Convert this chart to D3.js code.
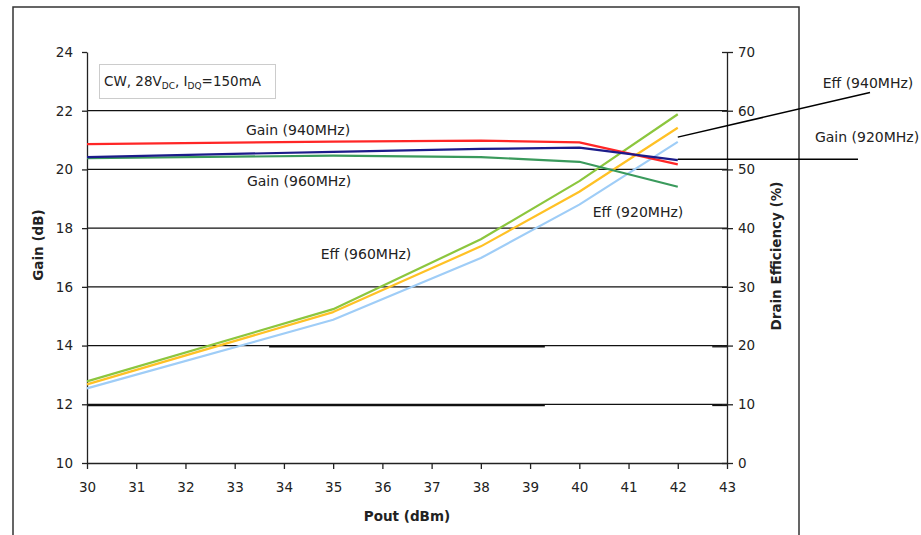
<!DOCTYPE html>
<html>
<head>
<meta charset="utf-8">
<script src="https://cdn.jsdelivr.net/npm/d3@7"></script>
<style>
body { margin: 0; background: #fff; }
text { font-family: "DejaVu Sans", sans-serif; fill: #222; }
</style>
</head>
<body>
<svg id="chart" width="921" height="535"></svg>
<script>
// measured points (Pout in dBm)
var pout = [30, 35, 38, 40, 42];
var gain920 = [20.42, 20.60, 20.70, 20.74, 20.32];
var gain940 = [20.86, 20.95, 20.98, 20.92, 20.17];
var gain960 = [20.38, 20.47, 20.42, 20.26, 19.41];
var eff920 = [12.7, 24.4, 34.9, 44.0, 54.7];
var eff940 = [13.4, 25.7, 36.9, 46.2, 57.1];
var eff960 = [13.9, 26.2, 38.1, 48.0, 59.4];

var xTicks = [30, 31, 32, 33, 34, 35, 36, 37, 38, 39, 40, 41, 42, 43];
var gainTicks = [10, 12, 14, 16, 18, 20, 22, 24];
var effTicks = [0, 10, 20, 30, 40, 50, 60, 70];
var gainGrid = [12, 14, 16, 18, 20, 22];

var svg = d3.select("#chart");

var x = d3.scaleLinear().domain([30, 43]).range([87, 727]);
var yG = d3.scaleLinear().domain([10, 24]).range([463, 52]);
var yE = d3.scaleLinear().domain([0, 70]).range([463, 52]);

// outer frame
svg.append("path")
  .attr("d", "M13,540 L13,7 L799,7 L799,540")
  .attr("fill", "none")
  .attr("stroke", "#333")
  .attr("stroke-width", 1.5);

// gridlines
svg.append("g").selectAll("line").data(gainGrid).enter().append("line")
  .attr("x1", x(30)).attr("x2", x(43))
  .attr("y1", function(d){ return yG(d); })
  .attr("y2", function(d){ return yG(d); })
  .attr("stroke", "#111")
  .attr("stroke-width", 1.2);

// the doubled pieces of the 10% / 20% lines (secondary axis grid)
var effOverlay = [
  {eff: 20, from: 33.7, to: 39.3},
  {eff: 20, from: 42.7, to: 43},
  {eff: 10, from: 30, to: 39.3},
  {eff: 10, from: 42.7, to: 43}
];
svg.append("g").selectAll("line").data(effOverlay).enter().append("line")
  .attr("x1", function(d){ return x(d.from); })
  .attr("x2", function(d){ return x(d.to); })
  .attr("y1", function(d){ return yE(d.eff) + 1.2; })
  .attr("y2", function(d){ return yE(d.eff) + 1.2; })
  .attr("stroke", "#111")
  .attr("stroke-width", 1.3);

// axes
var left = svg.append("g")
  .attr("transform", "translate(" + x(30) + ",0)")
  .call(d3.axisLeft(yG).tickValues(gainTicks).tickSize(5).tickSizeOuter(0).tickPadding(9));
var right = svg.append("g")
  .attr("transform", "translate(" + x(43) + ",0)")
  .call(d3.axisRight(yE).tickValues(effTicks).tickSize(6).tickSizeOuter(0).tickPadding(5));
right.selectAll(".tick line").attr("x1", -5);
var bottom = svg.append("g")
  .attr("transform", "translate(0," + yG(10) + ")")
  .call(d3.axisBottom(x).tickValues(xTicks).tickSize(6).tickSizeOuter(0).tickPadding(13));

[left, right, bottom].forEach(function(a){
  a.selectAll("path, line").attr("stroke", "#222").attr("stroke-width", 1.3);
  a.selectAll("text").attr("font-size", 13.5).attr("fill", "#333")
    .attr("font-family", "DejaVu Sans, sans-serif");
});

// series
var series = [
  {v: eff920, y: yE, color: "#9fcdf7"},
  {v: eff940, y: yE, color: "#ffc125"},
  {v: eff960, y: yE, color: "#8cc63e"},
  {v: gain960, y: yG, color: "#3a9a5c"},
  {v: gain940, y: yG, color: "#ff2626"},
  {v: gain920, y: yG, color: "#1c1c8a"}
];
series.forEach(function(s){
  var line = d3.line()
    .x(function(d, i){ return x(pout[i]); })
    .y(function(d){ return s.y(d); });
  svg.append("path")
    .datum(s.v)
    .attr("d", line)
    .attr("fill", "none")
    .attr("stroke", s.color)
    .attr("stroke-width", 2.2)
    .attr("stroke-linejoin", "round");
});

// leader lines for the two labels outside the plot
svg.append("line")
  .attr("x1", x(42)).attr("y1", yE(55.5))
  .attr("x2", 870).attr("y2", 92.5)
  .attr("stroke", "#000").attr("stroke-width", 1.5);
svg.append("line")
  .attr("x1", x(42)).attr("y1", yG(20.35))
  .attr("x2", 858).attr("y2", yG(20.35))
  .attr("stroke", "#000").attr("stroke-width", 1.5);

// series labels
var labels = [
  {t: "Gain (940MHz)", x: 298, y: 135},
  {t: "Gain (960MHz)", x: 299, y: 186},
  {t: "Eff (960MHz)", x: 366, y: 259},
  {t: "Eff (920MHz)", x: 638, y: 217},
  {t: "Eff (940MHz)", x: 868, y: 88},
  {t: "Gain (920MHz)", x: 867, y: 142}
];
svg.append("g").selectAll("text").data(labels).enter().append("text")
  .attr("x", function(d){ return d.x; })
  .attr("y", function(d){ return d.y; })
  .attr("text-anchor", "middle")
  .attr("font-size", 14)
  .text(function(d){ return d.t; });

// condition box
svg.append("rect")
  .attr("x", 99.5).attr("y", 64.5).attr("width", 176).attr("height", 34)
  .attr("fill", "#fff").attr("stroke", "#ccc").attr("stroke-width", 1);
var cond = svg.append("text").attr("x", 104).attr("y", 86).attr("font-size", 13.5);
cond.append("tspan").text("CW, 28V");
cond.append("tspan").attr("font-size", 9).attr("dy", 3).text("DC");
cond.append("tspan").attr("dy", -3).text(", I");
cond.append("tspan").attr("font-size", 9).attr("dy", 3).text("DQ");
cond.append("tspan").attr("dy", -3).text("=150mA");

// axis titles
svg.append("text")
  .attr("transform", "translate(43,245) rotate(-90)")
  .attr("text-anchor", "middle")
  .attr("font-size", 13.5).attr("font-weight", "bold")
  .text("Gain (dB)");
svg.append("text")
  .attr("transform", "translate(781,256) rotate(-90)")
  .attr("text-anchor", "middle")
  .attr("font-size", 13.5).attr("font-weight", "bold")
  .text("Drain Efficiency (%)");
svg.append("text")
  .attr("x", 407).attr("y", 521)
  .attr("text-anchor", "middle")
  .attr("font-size", 13.5).attr("font-weight", "bold")
  .text("Pout (dBm)");
</script>
</body>
</html>
